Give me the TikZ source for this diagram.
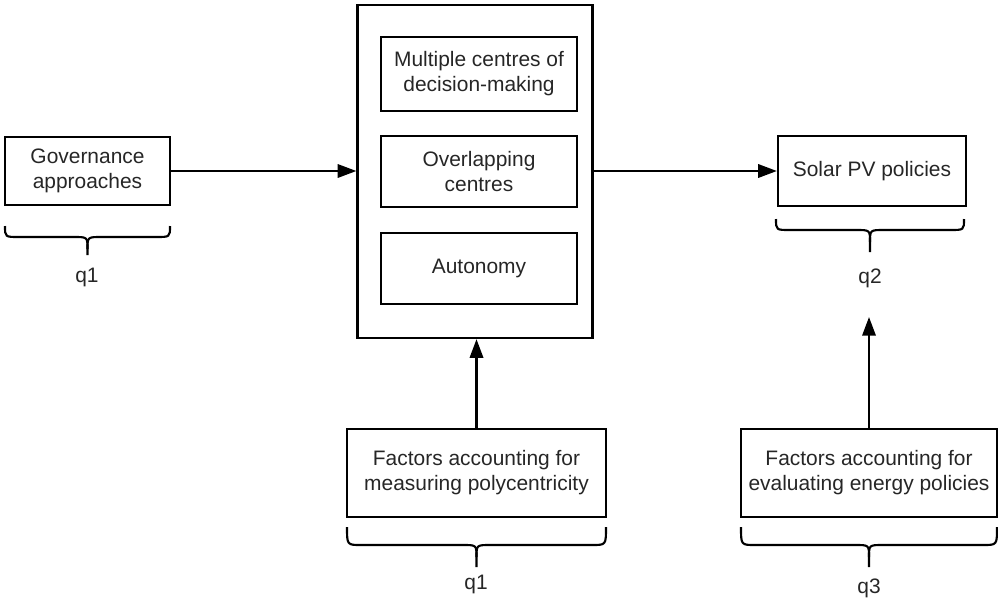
\documentclass[tikz,border=0pt]{standalone}
\usepackage{fontspec}
\setmainfont{Liberation Sans}
\usetikzlibrary{arrows.meta}
\begin{document}
\begin{tikzpicture}[x=0.75pt,y=-0.75pt,
  box/.style={draw=black,line width=1.7pt,inner sep=0pt,align=center,text=black!85,
    font=\fontsize{15.7}{18.8}\selectfont},
  conn/.style={line width=1.7pt,-{Triangle[length=14pt,width=10pt]}},
  bracepath/.style={line width=1.6pt,line join=round},
  lbl/.style={font=\fontsize{15.7}{18.8}\selectfont,text=black!85,inner sep=0pt}]
\useasboundingbox (0,0) rectangle (998,600);
% boxes
\node[box,minimum width=123.75pt,minimum height=51pt] (gov) at (87.5,171) {Governance\\approaches};
\node[box,minimum width=176.25pt,minimum height=249.75pt] (big) at (475,171.5) {};
\node[box,minimum width=147pt,minimum height=55.5pt] (in1) at (479,74) {Multiple centres of\\decision-making};
\node[box,minimum width=147pt,minimum height=53.25pt] (in2) at (479,171.5) {Overlapping\\centres};
\node[box,minimum width=147pt,minimum height=53.25pt] (in3) at (479,268.5) {Autonomy};
\node[box,minimum width=141pt,minimum height=52.5pt] (solar) at (872,171) {Solar PV policies};
\node[box,minimum width=194.25pt,minimum height=66pt] (f1) at (476.5,473) {Factors accounting for\\measuring polycentricity};
\node[box,minimum width=192pt,minimum height=66pt] (f2) at (869,473) {Factors accounting for\\evaluating energy policies};
\coordinate (q2tip) at (869,317);
% connectors
\draw[conn] (gov.east) -- (big.west |- gov.east);
\draw[conn] (big.east |- solar.west) -- (solar.west);
\draw[conn] (f1.north) -- (f1.north |- big.south);
\draw[conn] (f2.north) -- (q2tip);
% braces
\def\brace#1#2#3#4#5{% x1 x2 top mid tip
  \pgfmathsetmacro\xc{(#1+#2)/2}
  \draw[bracepath] (#1,#3) .. controls (#1,#4) and (#1,#4) .. (#1+14,#4)
    -- (\xc-14,#4) .. controls (\xc,#4) and (\xc,#4) .. (\xc,#4+12) -- (\xc,#5);
  \draw[bracepath] (#2,#3) .. controls (#2,#4) and (#2,#4) .. (#2-14,#4)
    -- (\xc+14,#4) .. controls (\xc,#4) and (\xc,#4) .. (\xc,#4+12);
}
\brace{5}{170}{226}{237}{255}
\brace{776}{964}{219}{230}{252}
\brace{347}{606}{527}{545}{567}
\brace{741}{997}{527}{545}{567}
% labels
\node[lbl] (l1) at (87,277) {q1};
\node[lbl] (l2) at (870,278) {q2};
\node[lbl] (l3) at (476,584) {q1};
\node[lbl] (l4) at (869,588) {q3};
\end{tikzpicture}
\end{document}
